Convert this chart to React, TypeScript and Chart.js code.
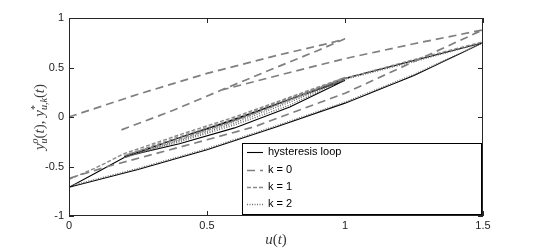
import React, { useEffect, useRef } from 'react';
import { Chart, registerables } from 'chart.js';
Chart.register(...registerables);

// axis ticks
const xTicks = [0, 0.5, 1, 1.5];
const yTicks = [-1, -0.5, 0, 0.5, 1];

// hysteresis loop (black solid)
const hystU = [0, 0.25, 0.5, 0.75, 1.0, 1.25, 1.5, 1.25, 1.0, 0.8, 0.6, 0.4, 0.2, 0.4, 0.6, 0.8, 1.0, 0.8, 0.6, 0.4, 0.2, 0.1, 0];
const hystY = [-0.71, -0.53, -0.33, -0.10, 0.14, 0.42, 0.75, 0.57, 0.39, 0.18, -0.02, -0.21, -0.40, -0.27, -0.11, 0.10, 0.37, 0.18, -0.03, -0.21, -0.41, -0.56, -0.71];

// k = 0 (dashed), null = pen up
const k0U = [0, 0.25, 0.5, 0.75, 0.95, 1.0, 1.0, 0.19, 0.38, 0.55, 0.75, 0.9, 1.0, 1.0, 0.55, 0.8, 1.0, 1.25, 1.5, 1.25, 1.0, 0.67, 0.5, 0.14, 0];
const k0Y = [0, 0.23, 0.44, 0.62, 0.75, 0.79, null, -0.13, 0.07, 0.27, 0.50, 0.67, 0.79, null, 0.27, 0.45, 0.59, 0.74, 0.88, 0.56, 0.24, -0.10, -0.23, -0.50, -0.62];

// k = 1 (short dashes)
const k1U = [0, 0.1, 0.2, 0.4, 0.6, 0.8, 1.0, 0.8, 0.6, 0.4, 0.2, 0.4, 0.6, 0.8, 1.0, 1.25, 1.5];
const k1Y = [-0.63, -0.51, -0.37, -0.18, 0.00, 0.20, 0.40, 0.17, -0.04, -0.22, -0.39, -0.20, -0.02, 0.19, 0.39, 0.58, 0.76];

// k = 2 (dotted)
const k2U = [0, 0.25, 0.5, 0.75, 1.0, 1.25, 1.5, 1.25, 1.0, 0.8, 0.6, 0.4, 0.2, 0.4, 0.6, 0.8, 1.0, 0.8, 0.6, 0.4, 0.2];
const k2Y = [-0.70, -0.52, -0.32, -0.09, 0.15, 0.43, 0.75, 0.56, 0.38, 0.17, -0.04, -0.23, -0.41, -0.25, -0.08, 0.12, 0.38, 0.15, -0.06, -0.24, -0.41];

const legendLabels = ['hysteresis loop', 'k = 0', 'k = 1', 'k = 2'];

const toPts = (u: number[], y: (number | null)[]) => u.map((v, i) => ({ x: v, y: y[i] }));

const styles = [
  { color: '#000000', width: 1.1, dash: [] as number[] },
  { color: '#7f7f7f', width: 1.7, dash: [8, 5] },
  { color: '#8a8a8a', width: 1.4, dash: [4, 2] },
  { color: '#6e6e6e', width: 1.4, dash: [1, 1.5] },
];

const serif = '"Liberation Serif", "DejaVu Serif", serif';

function drawParts(ctx: CanvasRenderingContext2D, parts: { t: string; f: string; dy: number; adv?: boolean }[], cx: number, cy: number) {
  let w = 0;
  for (const p of parts) {
    ctx.font = p.f;
    if (p.adv !== false) w += ctx.measureText(p.t).width;
  }
  let x = cx - w / 2;
  for (const p of parts) {
    ctx.font = p.f;
    ctx.fillText(p.t, x, cy + p.dy);
    if (p.adv !== false) x += ctx.measureText(p.t).width;
  }
}

const decorPlugin = {
  id: 'decor',
  afterDatasetsDraw(chart: any) {
    const { ctx, chartArea } = chart;
    const { left, right, top, bottom } = chartArea;
    const xs = chart.scales.x;
    const ys = chart.scales.y;
    ctx.save();
    ctx.strokeStyle = '#262626';
    ctx.lineWidth = 1;
    ctx.setLineDash([]);
    ctx.strokeRect(left + 0.5, top + 0.5, right - left - 1, bottom - top - 1);
    ctx.beginPath();
    for (const t of xTicks) {
      const px = Math.round(xs.getPixelForValue(t)) + 0.5;
      ctx.moveTo(px, bottom); ctx.lineTo(px, bottom - 5);
      ctx.moveTo(px, top); ctx.lineTo(px, top + 5);
    }
    for (const t of yTicks) {
      const py = Math.round(ys.getPixelForValue(t)) + 0.5;
      ctx.moveTo(left, py); ctx.lineTo(left + 5, py);
      ctx.moveTo(right, py); ctx.lineTo(right - 5, py);
    }
    ctx.stroke();

    // legend
    const lx = 242, ly = 143, lw = 240, lh = 72;
    ctx.fillStyle = '#ffffff';
    ctx.fillRect(lx, ly, lw, lh);
    ctx.strokeStyle = '#000000';
    ctx.strokeRect(lx + 0.5, ly + 0.5, lw - 1, lh - 1);
    const rows = [152, 170, 187, 204];
    ctx.font = '11px "Liberation Sans", Arial, sans-serif';
    ctx.textBaseline = 'middle';
    ctx.textAlign = 'left';
    legendLabels.forEach((lab, i) => {
      const s = styles[i];
      ctx.beginPath();
      ctx.strokeStyle = s.color;
      ctx.lineWidth = s.width;
      ctx.setLineDash(s.dash);
      ctx.moveTo(247, rows[i] + 0.5);
      ctx.lineTo(263, rows[i] + 0.5);
      ctx.stroke();
      ctx.setLineDash([]);
      ctx.fillStyle = '#000000';
      ctx.fillText(lab, 268, rows[i]);
    });

    // axis labels
    ctx.fillStyle = '#3a3a3a';
    ctx.textBaseline = 'alphabetic';
    ctx.textAlign = 'left';
    const it = `italic 15px ${serif}`;
    const rm = `15px ${serif}`;
    const itS = `italic 10px ${serif}`;
    const rmS = `10px ${serif}`;
    drawParts(ctx, [
      { t: 'u', f: it, dy: 0 },
      { t: '(', f: rm, dy: 0 },
      { t: 't', f: it, dy: 0 },
      { t: ')', f: rm, dy: 0 },
    ], (left + right) / 2, 244);

    ctx.save();
    ctx.translate(44, (top + bottom) / 2);
    ctx.rotate(-Math.PI / 2);
    drawParts(ctx, [
      { t: 'y', f: it, dy: 0 },
      { t: 'o', f: itS, dy: -6, adv: false },
      { t: 'u', f: itS, dy: 3 },
      { t: '(', f: rm, dy: 0 },
      { t: 't', f: it, dy: 0 },
      { t: '), ', f: rm, dy: 0 },
      { t: 'y', f: it, dy: 0 },
      { t: '*', f: rmS, dy: -6, adv: false },
      { t: 'u,k', f: itS, dy: 3 },
      { t: '(', f: rm, dy: 0 },
      { t: 't', f: it, dy: 0 },
      { t: ')', f: rm, dy: 0 },
    ], 0, 0);
    ctx.restore();
    ctx.restore();
  },
};

export default function App() {
  const ref = useRef<HTMLCanvasElement | null>(null);
  useEffect(() => {
    if (!ref.current) return;
    const series = [
      { label: legendLabels[1], data: toPts(k0U, k0Y), s: styles[1] },
      { label: legendLabels[2], data: toPts(k1U, k1Y), s: styles[2] },
      { label: legendLabels[3], data: toPts(k2U, k2Y), s: styles[3] },
      { label: legendLabels[0], data: toPts(hystU, hystY), s: styles[0] },
    ];
    const chart = new Chart(ref.current, {
      type: 'line',
      data: {
        datasets: series.map((d) => ({
          label: d.label,
          data: d.data as any,
          borderColor: d.s.color,
          borderWidth: d.s.width,
          borderDash: d.s.dash,
          pointRadius: 0,
          fill: false,
          tension: 0,
          spanGaps: false,
        })),
      },
      options: {
        animation: false,
        responsive: false,
        devicePixelRatio: 1,
        layout: { padding: { left: 0, top: 18, right: 51, bottom: 0 } },
        plugins: { legend: { display: false }, tooltip: { enabled: false } },
        scales: {
          x: {
            type: 'linear',
            min: 0,
            max: 1.5,
            grid: { display: false, drawTicks: false },
            border: { display: false },
            afterBuildTicks: (s: any) => { s.ticks = xTicks.map((v) => ({ value: v })); },
            afterFit: (s: any) => { s.height = 32; },
            ticks: {
              padding: 3,
              color: '#222222',
              font: { family: '"Liberation Sans", Arial, sans-serif', size: 11 },
              maxRotation: 0,
              callback: (v: any) => String(v),
            },
          },
          y: {
            type: 'linear',
            min: -1,
            max: 1,
            grid: { display: false, drawTicks: false },
            border: { display: false },
            afterBuildTicks: (s: any) => { s.ticks = yTicks.map((v) => ({ value: v })); },
            afterFit: (s: any) => { s.width = 69; },
            ticks: {
              padding: 5,
              color: '#222222',
              font: { family: '"Liberation Sans", Arial, sans-serif', size: 11 },
              callback: (v: any) => String(v),
            },
          },
        },
      },
      plugins: [decorPlugin],
    });
    return () => chart.destroy();
  }, []);
  return (
    <div style={{ position: 'fixed', left: 0, top: 0, width: 534, height: 248, background: '#fff' }}>
      <canvas ref={ref} width={534} height={248} style={{ width: 534, height: 248, display: 'block' }} />
    </div>
  );
}
